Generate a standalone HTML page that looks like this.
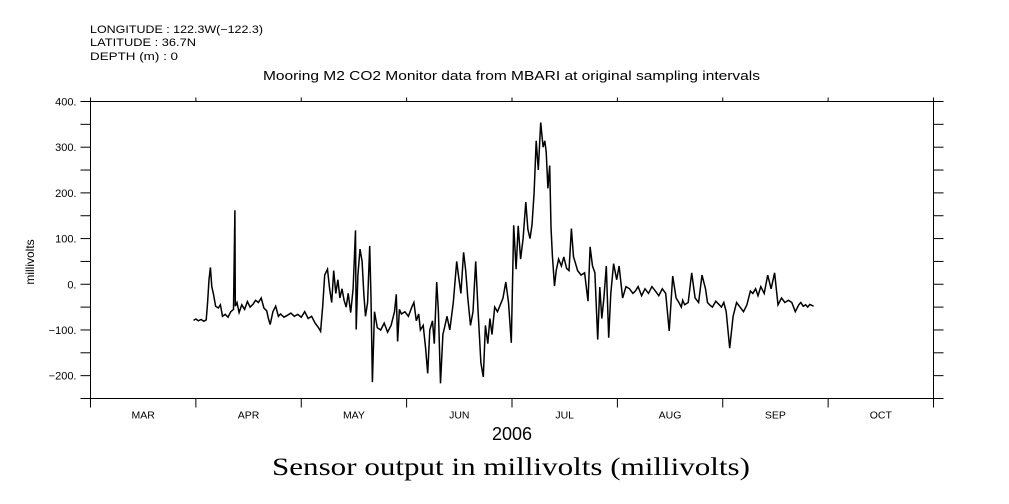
<!DOCTYPE html>
<html><head><meta charset="utf-8"><style>
html,body{margin:0;padding:0;background:#fff;}
svg{display:block;font-family:"Liberation Sans",sans-serif;}
</style></head><body>
<svg id="chart" width="1009" height="504" viewBox="0 0 1009 504" xmlns="http://www.w3.org/2000/svg">
<g font-size="11" fill="#000">
<text x="90" y="33" textLength="173" lengthAdjust="spacingAndGlyphs">LONGITUDE : 122.3W(−122.3)</text>
<text x="90" y="46" textLength="106" lengthAdjust="spacingAndGlyphs">LATITUDE : 36.7N</text>
<text x="90" y="60" textLength="88" lengthAdjust="spacingAndGlyphs">DEPTH (m) : 0</text>
</g>
<text x="263" y="80" textLength="497" lengthAdjust="spacingAndGlyphs" font-size="12.5">Mooring M2 CO2 Monitor data from MBARI at original sampling intervals</text>
<text transform="translate(34,262) rotate(-90)" text-anchor="middle" font-size="12">millivolts</text>
<text x="512" y="440" text-anchor="middle" font-size="18">2006</text>
<text x="272" y="475" textLength="478" lengthAdjust="spacingAndGlyphs" font-size="25" font-family="Liberation Serif, serif">Sensor output in millivolts (millivolts)</text>
<rect x="90.5" y="101.5" width="843" height="297" fill="none" stroke="#000" stroke-width="1"/>
<g id="axes"></g>
<g id="series"></g>
</svg>
<script>
const yTicks=[400,300,200,100,0,-100,-200];
const yTickLabels=["400.","300.","200.","100.","0.","-100.","-200."];
const months=["MAR","APR","MAY","JUN","JUL","AUG","SEP","OCT"];
const days=[29.8,30.5,31.2,32,32.8,33.5,33.9,34.3,34.7,35.1,35.6,36.2,37,37.6,38.2,39,39.8,40.6,41.4,41.8,41.9,42.4,43,43.8,44.6,45.4,46.2,47,47.8,48.6,49.4,50.2,51,51.5,52,52.8,53.6,54.4,55,56,57,58,59,60,61,62,63,64,65,66,66.6,67.2,67.8,68.6,69.2,69.8,70.4,71,71.6,72.2,72.8,73.4,74,74.6,75.3,76,76.7,76.9,77.4,78,78.6,79.1,79.6,80.2,80.8,81.2,81.6,82.2,83,84,85,86,87,88,88.5,88.9,89.4,90,91,92,93,93.6,94.3,95,95.5,96.3,97,97.6,98.2,99,99.5,100.2,100.7,101.3,102,102.6,103.2,104,105,106,106.5,107.2,108,108.6,109.2,110,110.7,111.5,112.2,113,113.7,114.3,115,115.6,116.2,117,117.8,118.6,119.4,120.2,121,121.8,122.5,123.2,123.8,124.5,125.2,126,126.6,127.2,127.8,128.4,129,129.6,130.3,131,131.5,131.9,132.4,132.9,133.3,133.7,134.3,134.8,135.5,136.3,137,137.8,138.5,139.2,139.8,140.4,141,142,143,144,144.6,145.3,146,146.8,147.4,148,148.6,149.3,150,150.6,151.4,152.3,153,154,155,156,157,157.7,158.5,159.5,160.5,161.5,162.5,163.5,164.5,165.5,166.5,167.5,168.5,169.5,170.3,171,171.4,172,173,174,175,176,177,178,178.6,179.2,180,181,182,182.6,183.3,184,185,186,187,188,189,190,191,191.7,192.5,193.2,194,195,196,197,198,199,200,201,202,203,204,205,205.6,206.3,207,207.6,208.2,209.3,210.2,211,211.6,212.3,213,214,215,216,217,217.7];
const vals=[-79,-76,-80,-77,-81,-78,-40,10,37,-5,-22,-48,-52,-45,-70,-66,-72,-60,-55,162,-48,-40,-62,-45,-55,-38,-50,-44,-35,-40,-30,-52,-58,-75,-88,-60,-48,-70,-65,-72,-68,-63,-70,-66,-72,-60,-75,-70,-85,-95,-103,-48,20,33,-10,-40,30,-20,10,-30,-10,-35,-50,-20,-62,-10,118,-99,20,77,50,-20,-70,-40,84,-30,-214,-60,-95,-100,-85,-105,-90,-60,-22,-125,-55,-65,-60,-70,-50,-40,-80,-65,-100,-90,-140,-195,-100,-80,-130,5,-60,-217,-110,-90,-70,-100,-40,50,20,-20,70,30,-30,-90,-60,50,-60,-172,-203,-90,-130,-75,-110,-50,-60,-45,-30,5,-40,-128,129,33,128,55,100,180,120,100,130,200,314,250,354,300,314,290,210,260,125,62,-4,30,55,40,60,35,30,122,60,45,30,20,25,-37,82,40,25,-121,-6,-75,-30,40,-117,-20,45,10,40,-30,-5,-10,-20,-15,-5,-25,-10,-20,-5,-15,-25,-10,-20,-102,18,-30,-40,-50,-35,-45,-40,25,-30,-40,20,-10,-40,-45,-50,-37,-45,-50,-40,-60,-140,-70,-40,-50,-60,-45,-15,-20,-10,-25,-5,-20,20,-10,25,-45,-30,-40,-35,-40,-60,-45,-40,-48,-45,-50,-44,-48];
const L=90.5,R=933.5,T=101.5,B=398.5,Y0=400,Y1=-250,D0=0,D1=244;
const sx=d=>L+(d-D0)/(D1-D0)*(R-L);
const sy=v=>T+(Y0-v)/(Y0-Y1)*(B-T);
const NS="http://www.w3.org/2000/svg";
const axes=document.getElementById('axes');
function line(x1,y1,x2,y2,name){const l=document.createElementNS(NS,'line');l.setAttribute('x1',x1);l.setAttribute('y1',y1);l.setAttribute('x2',x2);l.setAttribute('y2',y2);l.setAttribute('stroke','#000');


axes.appendChild(l);}
for(let v=-250;v<=400;v+=50){const y=sy(v);line(L-10,y,L,y,'y-tick');line(R,y,R+10,y,'y-tick-right');}
yTicks.forEach((v,i)=>{const t=document.createElementNS(NS,'text');t.setAttribute('x',L-14);t.setAttribute('y',sy(v)+4);t.setAttribute('text-anchor','end');t.setAttribute('font-size','11');t.textContent=yTickLabels[i].replace('-','\u2212');


axes.appendChild(t);});
const mw=(R-L)/months.length;
for(let i=0;i<=months.length;i++){const x=L+i*mw;line(x,B,x,B+9,'x-tick');line(x,T-4,x,T,'x-tick-top');}
months.forEach((m,i)=>{const t=document.createElementNS(NS,'text');t.setAttribute('x',L+(i+0.5)*mw);t.setAttribute('y',B+20);t.setAttribute('text-anchor','middle');t.setAttribute('font-size','10.5');t.textContent=m;


axes.appendChild(t);});
const p=document.createElementNS(NS,'polyline');
p.setAttribute('points',days.map((d,i)=>sx(d).toFixed(1)+','+sy(vals[i]).toFixed(1)).join(' '));
p.setAttribute('fill','none');p.setAttribute('stroke','#000');p.setAttribute('stroke-width','1.5');


document.getElementById('series').appendChild(p);
</script>
</body></html>
